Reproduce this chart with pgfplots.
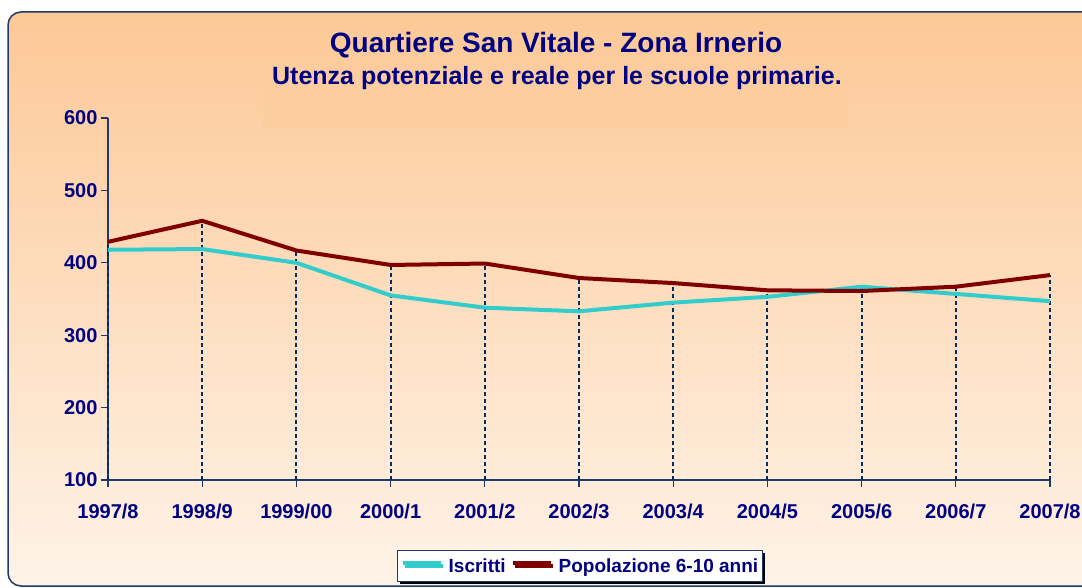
\documentclass[border=0pt]{standalone}
\usepackage{pgfplots}
\pgfplotsset{compat=1.18}
\usetikzlibrary{shadows}
\usepackage{fontspec}
\setmainfont{Liberation Sans}
\definecolor{navytxt}{RGB}{0,0,128}
\definecolor{axcol}{RGB}{31,58,102}
\definecolor{dropcol}{RGB}{0,45,100}
\definecolor{iscr}{RGB}{51,204,204}
\definecolor{popo}{RGB}{128,0,0}
\definecolor{bgtop}{RGB}{253,200,150}
\definecolor{bgmid}{RGB}{253,224,193}
\definecolor{bgbot}{RGB}{254,243,232}
\definecolor{tbox}{RGB}{252,205,158}
\pgfplotstableread{
x iscritti popolazione
0 418 429
1 419 458
2 400 417
3 355 397
4 338 399
5 333 379
6 345 372
7 353 362
8 367 361
9 357 367
10 347 383
}\datatab
\begin{document}
\begin{tikzpicture}
\useasboundingbox (0pt,0pt) rectangle (1082pt,587pt);
\fill[white] (0pt,0pt) rectangle (1082pt,587pt);
\shadedraw[top color=bgtop, middle color=bgmid, bottom color=bgbot, draw=axcol, line width=1.5pt, rounded corners=13pt] (8pt,1pt) rectangle (1120pt,575pt);
\fill[tbox] (263pt,459pt) rectangle (848pt,502pt);
\node[anchor=base, text=navytxt, font=\bfseries\fontsize{28}{32}\selectfont] at (556pt,534pt) {Quartiere San Vitale - Zona Irnerio};
\node[anchor=base, text=navytxt, font=\bfseries\fontsize{25}{29}\selectfont] at (557pt,502pt) {Utenza potenziale e reale per le scuole primarie.};
\begin{axis}[
  at={(108pt,107pt)}, anchor=south west,
  scale only axis, width=942pt, height=362pt,
  xmin=0, xmax=10, ymin=100, ymax=600,
  axis lines=left, axis line style={-, draw=axcol, line width=1.3pt},
  xtick={0,...,10},
  xticklabels={1997/8,1998/9,1999/00,2000/1,2001/2,2002/3,2003/4,2004/5,2005/6,2006/7,2007/8},
  ytick={100,200,...,600},
  tick align=outside, major tick length=7pt,
  tick style={draw=axcol, line width=1.3pt},
  /pgf/number format/assume math mode=true,
  ticklabel style={font=\bfseries\fontsize{20}{24}\selectfont, text=navytxt},
  xticklabel style={yshift=-13pt},
  clip=false,
  legend columns=2,
  legend style={at={(0.501,-0.2376)}, anchor=center, draw=axcol, line width=1pt, fill=white,
    font=\bfseries\fontsize{19}{22}\selectfont, text=navytxt,
    drop shadow={shadow xshift=2.5pt, shadow yshift=-2.5pt, fill=black, opacity=1},
    inner xsep=3pt, inner ysep=5.5pt,
    /tikz/every odd column/.append style={column sep=5pt},
    /tikz/every even column/.append style={column sep=4pt},
    nodes={inner xsep=1pt}},
  legend image code/.code={\draw[#1, line width=4pt, line cap=butt] (0pt,3pt) -- (38pt,3pt);},
]
\addplot[forget plot, ycomb, dropcol, line width=2pt, dash pattern=on 4pt off 3pt] table[x=x, y=popolazione] {\datatab};
\addplot[forget plot, ycomb, dropcol, line width=2pt, dash pattern=on 4pt off 3pt] table[x=x, y=iscritti] {\datatab};
\addplot[iscr, line width=4pt, line join=round, mark=none] table[x=x, y=iscritti] {\datatab};
\addlegendentry{Iscritti}
\addplot[popo, line width=4pt, line join=round, mark=none] table[x=x, y=popolazione] {\datatab};
\addlegendentry{Popolazione 6-10 anni}
\end{axis}
\end{tikzpicture}
\end{document}
